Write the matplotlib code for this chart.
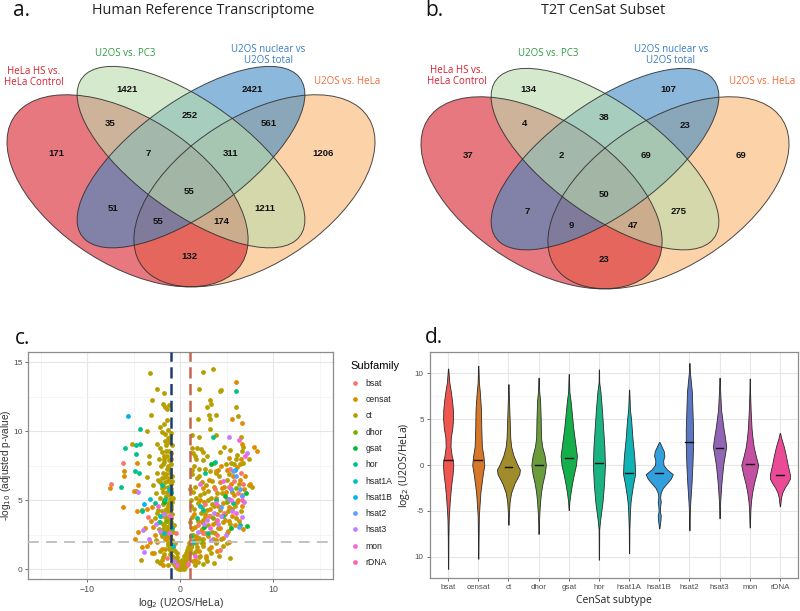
import matplotlib
matplotlib.use('Agg')
import matplotlib.pyplot as plt
from matplotlib.patches import Ellipse
from matplotlib.lines import Line2D
import numpy as np

W, H = 800, 611
fig = plt.figure(figsize=(8, 6.11), dpi=100)

def fx(px):
    return px / W

def fy(py):
    return 1 - py / H

# ---------------- Venn data ----------------
venn_sets = ['HeLa HS vs.\nHeLa Control', 'U2OS vs. PC3',
             'U2OS nuclear vs\nU2OS total', 'U2OS vs. HeLa']
venn_set_colors = ['#d7202e', '#2f9a44', '#3a7cc2', '#f06a38']
# regions: G, B, RG, GB, BO, R, RGB, GBO, O, RGBO, RB, GO, RBO, RGO, RO
venn_a_counts = [1421, 2421, 35, 252, 561, 171, 7, 311, 1206, 55, 51, 1211, 55, 174, 132]
venn_b_counts = [134, 107, 4, 38, 23, 37, 2, 69, 69, 50, 7, 275, 9, 47, 23]
venn_a_title = 'Human Reference Transcriptome'
venn_b_title = 'T2T CenSat Subset'

# layout (pixels)
venn_a_pos = [(127, 89), (252, 89), (110, 123), (190, 116), (269, 123), (56, 154),
              (148, 154), (231, 153), (323, 154), (189, 191), (113, 208), (265, 208),
              (158, 222), (221, 222), (189, 256)]
venn_b_pos = [(528, 90), (668, 90), (524, 123), (604, 118), (685, 125), (468, 156),
              (561, 156), (646, 156), (741, 156), (604, 194), (527, 212), (679, 212),
              (571, 225), (633, 225), (604, 259)]
venn_a_label_pos = [(34, 77), (125, 53), (268, 55), (347, 81)]
venn_b_label_pos = [(457, 76), (548, 53), (671, 55), (762, 81)]

# ellipse geometry (unit layout): x, y, a, b, angle
ell_geom = [(0.35, 0.47, 0.35, 0.20, -45),   # red
            (0.50, 0.57, 0.35, 0.15, -45),   # green
            (0.50, 0.57, 0.35, 0.15, 45),    # blue
            (0.65, 0.47, 0.35, 0.20, 45)]    # orange
ell_fill = ['#d71e2b', '#badcac', '#3f8ac5', '#fab76e']
draw_order = [3, 0, 2, 1]


def venn_panel(cx_px, dy_px, counts, pos, label_pos, title, title_x, letter, letter_x):
    x0, x1 = 0.03, 0.97
    y0, y1 = 0.12, 0.92
    sx, sy = 423.0, 337.0
    left = cx_px + (x0 - 0.5) * sx
    right = cx_px + (x1 - 0.5) * sx
    top = 349.2 + dy_px - sy * y1
    bottom = 349.2 + dy_px - sy * y0
    ax = fig.add_axes([left / W, 1 - bottom / H, (right - left) / W, (bottom - top) / H])
    ax.set_xlim(x0, x1)
    ax.set_ylim(y0, y1)
    ax.axis('off')
    for i in draw_order:
        x, y, a, b, ang = ell_geom[i]
        ax.add_patch(Ellipse((x, y), 2 * a, 2 * b, angle=ang, facecolor=ell_fill[i],
                             alpha=0.6, edgecolor='none'))
    for i in draw_order:
        x, y, a, b, ang = ell_geom[i]
        ax.add_patch(Ellipse((x, y), 2 * a, 2 * b, angle=ang, facecolor='none',
                             edgecolor='#2b2b2b', lw=0.7, alpha=0.85))
    for c, (px, py) in zip(counts, pos):
        fig.text(fx(px), fy(py), str(c), ha='center', va='center', fontsize=6.8,
                 fontweight='bold', family='Liberation Sans', color='#111111')
    for name, col, (px, py) in zip(venn_sets, venn_set_colors, label_pos):
        fig.text(fx(px), fy(py), name, ha='center', va='center', fontsize=7,
                 family='Open Sans', color=col, linespacing=1.05)
    fig.text(fx(title_x), fy(10), title, ha='center', va='center', fontsize=10.4,
             family='Open Sans', color='#222222')
    fig.text(fx(letter_x), fy(11), letter, ha='left', va='center', fontsize=15,
             family='Open Sans', color='#111111')


venn_panel(191, 0, venn_a_counts, venn_a_pos, venn_a_label_pos, venn_a_title, 203, 'a.', 13)
venn_panel(605, 2, venn_b_counts, venn_b_pos, venn_b_label_pos, venn_b_title, 603, 'b.', 425)

# ---------------- Volcano data ----------------
subfamilies = ['bsat', 'censat', 'ct', 'dhor', 'gsat', 'hor', 'hsat1A', 'hsat1B',
               'hsat2', 'hsat3', 'mon', 'rDNA']
hue_colors = ['#F8766D', '#DE8C00', '#B79F00', '#7CAE00', '#00BA38', '#00C08B',
              '#00BFC4', '#00B4F0', '#619CFF', '#C77CFF', '#F564E3', '#FF64B0']

ct_pts = [(-3.3, 14.2), (-3.0, 12.3), (-3.2, 11.2), (-3.6, 10.0), (-3.4, 8.2), (-3.4, 7.7),
          (-3.6, 6.7), (-2.9, 6.1), (-3.05, 1.15), (-2.5, 13.1), (-1.7, 12.8), (-1.9, 12.0),
          (-1.6, 11.8), (-2.15, 10.3), (-2.0, 9.95), (-1.4, 10.8), (-2.5, 9.1), (-2.2, 8.8),
          (-2.0, 8.5), (-1.8, 8.2), (-2.5, 6.95), (-2.2, 6.35), (-2.5, 4.05), (-2.2, 0.45),
          (-5.2, 9.1), (-4.2, 0.7), (-1.2, 11.9), (-1.4, 11.6),
          (-1.6, 9.8), (-1.3, 9.5), (-1.1, 9.6), (-1.5, 9.0), (-1.2, 8.6), (-1.4, 8.2),
          (-1.0, 8.0), (-1.7, 7.8), (-1.3, 7.5), (-1.1, 7.2), (-1.5, 6.9), (-1.2, 6.6),
          (-0.9, 6.4), (-1.6, 6.3), (-1.3, 6.0), (-1.0, 5.8), (-1.4, 5.6), (-1.1, 5.4),
          (-0.8, 5.2), (-1.7, 5.0), (-1.3, 4.8), (-1.0, 4.6), (-1.5, 4.4), (-1.2, 4.2),
          (-0.9, 4.0), (-1.6, 3.8), (-1.3, 3.6), (-1.0, 3.4), (-0.7, 3.2), (-1.4, 3.1),
          (-1.1, 2.9), (-0.8, 2.7), (-1.5, 2.5), (-1.2, 2.3), (-0.9, 2.1), (-0.6, 1.9),
          (-1.3, 1.8), (-1.0, 1.6), (-0.7, 1.4), (-0.4, 1.2), (-1.1, 1.1), (-0.8, 0.9),
          (-0.5, 0.7), (-0.3, 0.5), (-0.9, 0.5), (-0.6, 0.3), (-0.2, 0.2), (0.0, 0.1),
          (0.2, 0.15), (0.4, 0.3), (0.6, 0.5), (0.3, 0.6), (0.8, 0.8), (0.5, 1.0),
          (1.0, 1.2), (0.7, 1.4), (1.2, 1.7), (0.9, 1.9), (0.1, 0.35), (-0.1, 0.4),
          (0.35, 0.05), (-0.35, 0.1),
          (-2.3, 8.0), (-2.1, 7.5), (-1.9, 7.0), (-2.4, 6.5), (-2.0, 5.9), (-2.6, 5.5),
          (-2.2, 5.2), (-1.9, 4.7), (-2.4, 4.3), (-2.1, 3.9), (-2.7, 3.7), (-1.9, 3.3),
          (-2.3, 2.9), (-2.0, 2.4), (-2.6, 2.1), (-2.2, 1.3), (-1.9, 0.9), (-2.5, 0.6),
          (-1.9, 2.9), (-1.7, 2.6), (-1.5, 2.2), (-1.35, 1.9), (-1.2, 1.5), (-1.05, 1.3),
          (-0.9, 1.0), (-0.75, 0.8), (-0.6, 0.6), (-0.45, 0.45), (-0.3, 0.3), (-0.15, 0.2),
          (0.05, 0.12), (0.15, 0.25), (0.3, 0.4), (0.45, 0.55), (0.6, 0.75), (0.75, 0.95),
          (0.9, 1.1), (1.05, 1.4), (1.2, 1.6), (1.35, 1.9), (1.5, 2.1), (1.65, 2.4),
          (-0.5, 0.2), (0.5, 0.2), (-0.7, 0.4), (0.7, 0.35), (-0.2, 0.6), (0.2, 0.7),
          (-0.4, 0.9), (0.4, 1.0), (-0.6, 1.3), (0.6, 1.2), (-0.8, 1.6), (0.8, 1.6),
          (-1.0, 2.0), (1.0, 2.0), (-1.15, 2.4), (1.15, 2.5), (-1.4, 2.8), (1.3, 2.9),
          (-0.1, 0.05), (0.1, 0.02), (0.25, 0.1), (-0.25, 0.08), (-1.6, 1.5), (-1.8, 1.1),
          (-2.0, 0.7), (1.7, 1.3), (2.0, 0.9), (-1.3, 0.3), (1.4, 0.6),
          (-1.2, 9.2), (-0.9, 9.0), (-1.5, 8.6), (-1.05, 8.4), (-1.7, 8.0), (-1.25, 7.9),
          (-0.95, 7.6), (-1.45, 7.3), (-1.15, 7.0), (-1.6, 6.7), (-0.85, 6.8), (-1.35, 6.4),
          (-1.05, 6.2), (-1.75, 6.0), (-1.25, 5.8), (-0.95, 5.5), (-1.5, 5.3), (-1.15, 5.1),
          (-1.8, 4.9), (-0.85, 4.9), (-1.35, 4.6), (-1.05, 4.4), (-1.6, 4.1), (-1.25, 3.9),
          (-0.95, 3.7), (-1.45, 3.5), (-1.15, 3.3), (-1.75, 3.2), (-0.85, 3.1), (-1.35, 2.95),
          (-1.9, 5.6), (-2.0, 6.6), (-1.9, 7.6), (-1.6, 9.3), (-1.3, 10.1), (-1.0, 9.9),
          (-1.7, 10.5), (-2.0, 4.2), (-2.2, 3.4), (-2.1, 2.6),
          (1.3, 9.7), (1.8, 8.8), (2.2, 8.7), (2.5, 8.5), (1.4, 8.45), (1.7, 8.0), (2.4, 7.9),
          (2.9, 8.2), (3.6, 7.7), (1.5, 7.5), (2.0, 7.3), (1.3, 6.9), (1.8, 6.6), (2.3, 6.3),
          (1.6, 6.0), (2.8, 6.1), (1.4, 5.6), (2.1, 5.4), (3.0, 5.7), (1.2, 5.0), (1.9, 4.8),
          (2.6, 4.9), (3.3, 5.2), (1.5, 4.4), (2.2, 4.1), (2.9, 4.3), (3.6, 4.6), (1.3, 3.8),
          (1.9, 3.5), (2.5, 3.6), (3.2, 3.9), (1.6, 3.1), (2.3, 2.9), (3.0, 3.2), (3.8, 3.4),
          (1.4, 2.5), (2.0, 2.3), (2.7, 2.6), (3.4, 2.7), (1.7, 1.9), (2.4, 1.7), (3.1, 1.5),
          (1.5, 1.2), (2.1, 1.0), (2.8, 0.8), (1.9, 0.5), (2.5, 0.4), (3.6, 0.45), (5.4, 0.85),
          (4.1, 3.0), (4.5, 5.5), (5.0, 6.5), (4.2, 6.8), (5.5, 7.7), (6.0, 8.0), (6.4, 7.6),
          (6.8, 7.7), (7.35, 8.0), (6.6, 8.6), (6.8, 8.9), (6.5, 9.6), (5.4, 8.65), (4.7, 8.9),
          (4.3, 8.5), (3.9, 9.7), (3.2, 10.2), (3.05, 11.2), (3.2, 10.9), (3.9, 11.2),
          (1.9, 10.9), (2.9, 11.8), (3.3, 12.0), (3.15, 12.3), (4.3, 12.9), (4.4, 13.0),
          (2.0, 13.1), (2.5, 14.3), (3.5, 14.5), (5.95, 11.8), (6.2, 11.1), (3.15, 7.1),
          (3.9, 6.95), (7.4, 6.1), (7.7, 6.0), (4.8, 4.0), (5.6, 4.4), (6.2, 5.0), (5.2, 3.5),
          (6.5, 4.2), (4.4, 2.2), (5.0, 2.6),
          (1.1, 3.4), (1.2, 4.6), (1.1, 5.8), (1.3, 7.2), (1.6, 8.2), (1.25, 8.8), (2.0, 9.6),
          (1.7, 5.2), (2.3, 4.5), (2.6, 5.5), (2.0, 6.8), (2.7, 7.3), (2.4, 2.2), (1.8, 1.6),
          (3.3, 1.2), (2.9, 0.6), (1.6, 0.3), (3.9, 1.9), (4.2, 1.0), (3.7, 2.6), (4.6, 1.7),
          (5.0, 1.9), (3.4, 4.7), (4.0, 5.5), (4.7, 6.0), (5.3, 6.9), (5.8, 7.6), (6.1, 8.3),
          (4.9, 7.6), (4.1, 7.2), (3.4, 6.4), (3.0, 5.0), (2.7, 4.0), (3.5, 2.2), (4.3, 4.3),
          (5.1, 4.2), (5.9, 4.6), (6.7, 5.4), (6.3, 6.2), (5.6, 5.6), (4.6, 3.4), (5.4, 3.3),
          (6.0, 3.7)]
censat_pts = [(-7.6, 5.9), (-6.1, 7.15), (-6.1, 6.8), (-6.2, 4.5), (-4.7, 7.7), (-5.0, 5.7),
              (-4.8, 5.7), (-4.7, 4.2), (-4.6, 6.1), (-4.9, 2.2), (-3.6, 4.4), (-4.5, 2.7),
              (-4.1, 1.6), (-3.15, 3.5), (-2.9, 3.1), (-3.6, 1.7), (-2.5, 1.95), (-2.0, 1.5),
              (-3.3, 2.0), (-2.7, 2.5), (-1.6, 2.2), (-2.8, 1.2), (-1.9, 0.35), (-3.8, 3.0),
              (-3.0, 4.5), (6.0, 13.6), (5.6, 10.9), (6.7, 10.6), (7.9, 8.9), (8.3, 8.6),
              (5.0, 7.2), (6.1, 7.4), (6.8, 2.9), (4.3, 6.3), (3.6, 6.0), (5.5, 6.2), (6.4, 6.5),
              (4.9, 5.6), (5.8, 5.4), (6.9, 5.8), (3.9, 5.2), (4.6, 4.8), (5.3, 4.5), (6.1, 4.9),
              (6.7, 4.6), (3.2, 4.4), (4.0, 4.0), (4.8, 3.6), (5.6, 3.9), (6.3, 3.5), (2.7, 3.8),
              (3.5, 3.3), (4.3, 3.0), (5.1, 2.8), (5.9, 3.2), (2.2, 2.8), (3.0, 2.4), (3.8, 2.1),
              (4.6, 2.3), (5.3, 2.0), (1.8, 2.2), (2.5, 1.9), (3.3, 1.6), (4.0, 1.3), (2.0, 1.3),
              (2.8, 1.0), (1.6, 0.7), (1.3, 3.0), (1.5, 4.0), (2.1, 5.0), (2.4, 5.9), (3.1, 6.5),
              (3.8, 7.1), (4.4, 7.5), (6.5, 8.0), (7.0, 6.8), (7.5, 6.2), (6.6, 9.1), (5.2, 8.1),
              (2.3, 3.4), (4.1, 4.6), (5.7, 6.8), (4.5, 5.9)]
bsat_pts = [(-7.5, 6.2), (-6.2, 7.7), (5.4, 7.3), (6.5, 6.95), (4.3, 1.4), (5.8, 6.4), (3.1, 3.9),
            (4.7, 4.1), (6.2, 5.5), (2.4, 2.6), (5.0, 5.1), (3.7, 5.8), (-1.4, 0.8), (-0.5, 2.6),
            (1.9, 3.2), (6.8, 6.2), (-3.5, 3.8), (4.0, 2.5), (2.7, 4.7)]
dhor_pts = [(-4.1, 4.3), (3.5, 3.7), (5.0, 4.9), (-1.5, 3.5), (2.2, 2.0), (6.0, 5.9)]
gsat_pts = [(7.1, 5.5), (7.2, 3.15), (5.5, 3.0), (3.3, 7.6), (4.8, 5.3), (-1.8, 4.9), (2.6, 3.1)]
hor_pts = [(-6.4, 5.95), (-5.9, 8.8), (-4.8, 9.0), (-4.8, 8.35), (-4.9, 7.1), (-4.3, 10.2),
           (-4.3, 9.1), (-4.4, 6.95), (-4.1, 4.25), (-2.0, 6.1), (-2.7, 4.8), (-2.3, 3.4),
           (6.0, 12.9), (3.5, 9.6), (2.7, 7.0), (3.75, 7.8), (3.9, 5.0), (2.5, 4.3), (4.6, 3.9),
           (5.7, 4.8), (1.8, 3.7), (-1.6, 5.1), (-0.9, 3.0), (3.0, 2.6), (6.4, 3.2), (1.2, 2.4)]
hsat1A_pts = [(-3.3, 5.1), (-1.8, 2.6), (-1.2, 5.8), (-0.8, 1.7), (-2.2, 3.9), (1.4, 2.0), (2.1, 4.6)]
hsat1B_pts = [(-5.6, 11.1), (-3.9, 4.75), (-1.0, 5.6), (5.9, 7.2)]
hsat2_pts = [(5.7, 7.1), (6.45, 5.8), (6.3, 3.1), (5.2, 5.1), (6.0, 6.8), (4.4, 4.5), (6.6, 5.3), (5.5, 5.8)]
hsat3_pts = [(-4.5, 5.6), (-4.0, 2.85), (-3.9, 1.25), (-3.4, 2.2), (-2.15, 2.75), (5.2, 9.6),
             (7.2, 8.4), (6.6, 3.8), (3.6, 4.1), (4.1, 3.3), (4.9, 2.5), (2.9, 3.6), (5.6, 4.2),
             (-1.7, 4.0), (-0.7, 0.6), (3.3, 2.1), (6.9, 4.9), (1.9, 2.7), (2.6, 3.3), (4.4, 3.9),
             (-2.6, 3.3)]
mon_pts = [(6.3, 9.4), (7.0, 8.2), (2.1, 6.2), (4.6, 6.4), (5.5, 5.0), (3.2, 3.0), (1.6, 1.0),
           (-0.3, 0.3), (-1.2, 2.6), (-2.4, 4.6), (6.0, 4.1), (3.8, 4.8), (-1.1, 3.9)]
rDNA_pts = [(6.6, 5.0), (5.3, 6.0), (4.0, 3.6), (0.8, 0.4)]
volcano_pts = [bsat_pts, censat_pts, ct_pts, dhor_pts, gsat_pts, hor_pts, hsat1A_pts,
               hsat1B_pts, hsat2_pts, hsat3_pts, mon_pts, rDNA_pts]
fc_cut = 1.0
p_cut = 2.0

TXT = '#4d4d4d'


def bw_style(ax):
    for s in ax.spines.values():
        s.set_color('#8c8c8c')
        s.set_linewidth(0.9)
    ax.tick_params(which='major', colors='#555555', labelcolor=TXT, labelsize=6.3,
                   length=2.5, width=0.6, pad=2)
    ax.tick_params(which='minor', length=0)
    ax.grid(which='major', color='#e6e6e6', lw=0.8)
    ax.grid(which='minor', color='#f2f2f2', lw=0.5)
    ax.set_axisbelow(True)


axc = fig.add_axes([fx(28), fy(579), (333 - 28) / W, (579 - 352) / H])
bw_style(axc)
axc.tick_params(axis='y', pad=1.5, labelsize=6)
axc.set_xlim(-16.4, 16.45)
axc.set_ylim(-0.7, 15.75)
axc.set_xticks([-10, 0, 10])
axc.set_xticks([-15, -5, 5, 15], minor=True)
axc.set_yticks([0, 5, 10, 15])
axc.set_yticks([2.5, 7.5, 12.5], minor=True)
order = [2, 1, 0, 3, 4, 5, 6, 7, 8, 9, 10, 11]
for i in order:
    pts = np.array(volcano_pts[i])
    axc.scatter(pts[:, 0], pts[:, 1], s=12, color=hue_colors[i], linewidths=0, zorder=3)
axc.axvline(-fc_cut, color='#1b3d73', lw=1.8, dashes=(4.5, 2.2), zorder=4)
axc.axvline(fc_cut, color='#c4664e', lw=1.8, dashes=(4.5, 2.2), zorder=4)
axc.axhline(p_cut, color='#bdbdbd', lw=1.3, dashes=(6, 4), zorder=4)
axc.set_xlabel('log$_2$ (U2OS/HeLa)', fontsize=7.5, family='Liberation Sans', color='#333333', labelpad=1)
axc.set_ylabel('-log$_{10}$ (adjusted p-value)', fontsize=7.3, family='Liberation Sans', color='#333333')
axc.yaxis.set_label_coords(-0.05, 0.5)
for t in axc.get_xticklabels() + axc.get_yticklabels():
    t.set_family('Liberation Sans')
handles = [Line2D([], [], marker='o', ls='', markersize=3.4, color=c, markeredgewidth=0)
           for c in hue_colors]
leg = fig.legend(handles, subfamilies, loc='upper left', bbox_to_anchor=(fx(346), fy(357)),
                 frameon=False, title='Subfamily', fontsize=6.2, title_fontsize=8,
                 labelspacing=0.85, handletextpad=0.6, handlelength=1.2, borderpad=0)
leg._legend_box.align = 'left'
for t in leg.get_texts():
    t.set_family('Liberation Sans')
    t.set_color('#222222')
leg.get_title().set_family('Liberation Sans')
fig.text(fx(15), fy(338), 'c.', fontsize=15, family='Open Sans', va='center', color='#111111')

# ---------------- Violin data ----------------
subtypes = subfamilies
violin_colors = ['#F05550', '#D77828', '#A08C2A', '#6A9C3C', '#14AF4B', '#19B482',
                 '#10B2B4', '#32A0DC', '#5A78C3', '#9164B4', '#C350A0', '#EB4B96']
violin_medians = [0.5, 0.5, -0.2, 0.0, 0.8, 0.2, -0.9, -0.9, 2.5, 1.8, 0.1, -1.1]
bsat_y = [10.5, 9, 8, 7, 6, 5, 4, 3, 2, 1, 0.5, 0, -1, -2, -3, -4, -5, -6, -8, -11.3]
bsat_w = [0.005, 0.04, 0.09, 0.13, 0.16, 0.165, 0.14, 0.09, 0.08, 0.12, 0.16, 0.17, 0.15, 0.11, 0.08, 0.055, 0.035, 0.02, 0.01, 0.005]
censat_y = [10.8, 9, 8, 6, 4, 2, 1, 0, -1, -2, -3, -4, -5.5, -8, -10.2]
censat_w = [0.005, 0.02, 0.05, 0.09, 0.1, 0.12, 0.17, 0.2, 0.15, 0.11, 0.07, 0.05, 0.02, 0.01, 0.005]
ct_y = [8.8, 7, 5, 3, 2, 1, 0, -0.5, -1, -2, -3, -4, -5, -6.5]
ct_w = [0.005, 0.02, 0.04, 0.06, 0.09, 0.17, 0.3, 0.38, 0.36, 0.2, 0.09, 0.04, 0.02, 0.005]
dhor_y = [9.5, 8, 7, 5, 3, 2, 1, 0, -1, -2, -3, -4, -5, -6, -7.5]
dhor_w = [0.005, 0.02, 0.05, 0.07, 0.08, 0.12, 0.2, 0.24, 0.2, 0.13, 0.08, 0.05, 0.03, 0.015, 0.005]
gsat_y = [9.9, 8, 7, 6, 5, 4, 3, 2, 1, 0, -1, -2, -3, -4, -4.9]
gsat_w = [0.005, 0.02, 0.06, 0.09, 0.12, 0.15, 0.19, 0.23, 0.27, 0.24, 0.17, 0.11, 0.06, 0.02, 0.005]
hor_y = [10.4, 9, 8, 6, 4, 2, 0, -2, -4, -5, -6, -7, -10.3]
hor_w = [0.005, 0.01, 0.05, 0.1, 0.14, 0.18, 0.2, 0.17, 0.12, 0.08, 0.04, 0.01, 0.005]
hsat1A_y = [8.2, 6, 5, 3, 2, 1, 0, -1, -2, -3, -4, -5, -7, -9.6]
hsat1A_w = [0.005, 0.03, 0.066, 0.11, 0.14, 0.17, 0.19, 0.2, 0.14, 0.09, 0.05, 0.03, 0.01, 0.005]
hsat1B_y = [2.5, 2, 1.5, 1, 0.5, 0, -0.5, -1, -1.5, -2, -2.5, -3, -3.5, -4, -4.5, -5, -5.5, -6, -6.9]
hsat1B_w = [0.01, 0.08, 0.15, 0.17, 0.13, 0.14, 0.26, 0.45, 0.38, 0.25, 0.12, 0.05, 0.03, 0.05, 0.03, 0.02, 0.05, 0.04, 0.005]
hsat2_y = [11.1, 10, 8, 6, 4, 2, 0, -2, -3, -4, -5, -7.1]
hsat2_w = [0.005, 0.02, 0.08, 0.1, 0.12, 0.12, 0.1, 0.07, 0.05, 0.03, 0.015, 0.005]
hsat3_y = [9.5, 8, 6, 5, 4, 3, 2, 1, 0, -1, -2, -3, -4, -5.8]
hsat3_w = [0.005, 0.02, 0.05, 0.09, 0.13, 0.18, 0.22, 0.17, 0.12, 0.09, 0.06, 0.04, 0.02, 0.005]
mon_y = [9.4, 8, 6, 4, 3, 2, 1, 0, -1, -2, -3, -4, -5, -6.8]
mon_w = [0.005, 0.01, 0.03, 0.06, 0.09, 0.13, 0.2, 0.28, 0.22, 0.14, 0.08, 0.04, 0.02, 0.005]
rDNA_y = [3.5, 3, 2, 1, 0, -1, -1.5, -2, -2.5, -3, -3.5, -4.5]
rDNA_w = [0.005, 0.04, 0.13, 0.2, 0.26, 0.33, 0.33, 0.25, 0.15, 0.08, 0.04, 0.005]
violin_y = [bsat_y, censat_y, ct_y, dhor_y, gsat_y, hor_y, hsat1A_y, hsat1B_y, hsat2_y,
            hsat3_y, mon_y, rDNA_y]
violin_w = [bsat_w, censat_w, ct_w, dhor_w, gsat_w, hor_w, hsat1A_w, hsat1B_w, hsat2_w,
            hsat3_w, mon_w, rDNA_w]

axd = fig.add_axes([fx(430), fy(578), (798 - 430) / W, (578 - 352) / H])
bw_style(axd)
axd.set_xlim(0.4, 12.6)
axd.set_ylim(-12.3, 12.3)
positions = np.arange(1, len(subtypes) + 1)
axd.set_xticks(positions)
axd.set_xticklabels(subtypes)
axd.set_yticks([-10, -5, 0, 5, 10])
axd.set_yticklabels(['10', '-5', '0', '5', '10'])
axd.set_yticks([-7.5, -2.5, 2.5, 7.5], minor=True)
for t in axd.get_xticklabels() + axd.get_yticklabels():
    t.set_family('Liberation Sans')
    t.set_fontsize(5.8)
for p, yy, ww, col, med in zip(positions, violin_y, violin_w, violin_colors, violin_medians):
    yy = np.array(yy)
    ww = np.array(ww)
    axd.fill_betweenx(yy, p - ww, p + ww, facecolor=col, edgecolor='#2b2b2b', lw=0.6, zorder=3)
    axd.plot([p - 0.13, p + 0.13], [med, med], color='#111111', lw=1.0, zorder=4)
axd.set_xlabel('CenSat subtype', fontsize=7.5, family='Open Sans', color='#222222', labelpad=3)
axd.set_ylabel('log$_2$ (U2OS/HeLa)', fontsize=7.5, family='Open Sans', color='#222222', labelpad=2)
fig.text(fx(425), fy(337), 'd.', fontsize=15, family='Open Sans', va='center', color='#111111')

fig.savefig('out.png', dpi=100)
